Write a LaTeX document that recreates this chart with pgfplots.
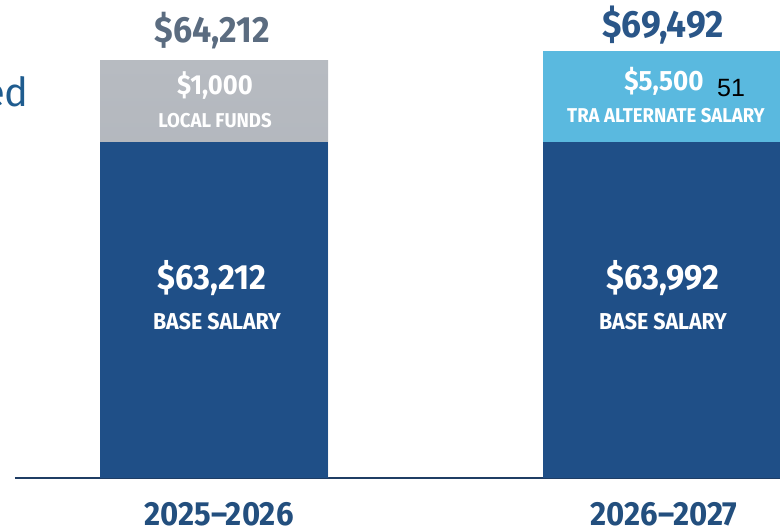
\documentclass[border=0pt]{standalone}
\usepackage{pgfplots}
\pgfplotsset{compat=1.18}
\usepackage{fontspec}
\setmainfont{Fira Sans}
\newfontfamily\cond[FakeStretch=0.93]{Fira Sans}
\newfontfamily\arial{Liberation Sans}
\definecolor{navy}{HTML}{1F4F87}
\definecolor{axnavy}{HTML}{1F3D64}
\definecolor{graytop}{HTML}{B7BBC1}
\definecolor{graybot}{HTML}{A6ABB3}
\definecolor{lblue}{HTML}{5AB9DF}
\definecolor{slate}{HTML}{5B6C80}
\definecolor{topblue}{HTML}{2A5688}
\definecolor{yearblue}{HTML}{234F7E}
\definecolor{edblue}{HTML}{1F5C8F}
\newcommand\fs[1]{\fontsize{#1}{#1}\selectfont}
\begin{document}
\begin{tikzpicture}[x=1pt,y=1pt]
\useasboundingbox (0,-54) rectangle (780,478);
\clip (0,-54) rectangle (780,478);
\begin{axis}[
  at={(15pt,0pt)}, anchor=south west,
  scale only axis, width=765pt, height=478pt,
  xmin=15, xmax=780, ymin=0, ymax=478,
  axis y line=none, axis x line*=bottom,
  x axis line style={draw=axnavy, line width=2.5pt},
  xtick=\empty, ytick=\empty,
  clip=false,
  ybar, bar shift=0pt,
]
% totals (top segment colour), drawn first
\addplot[top color=graytop, bottom color=graybot, draw=none, bar width=228] coordinates {(214,417)};
\addplot[fill=lblue, draw=none, bar width=250] coordinates {(668,427)};
% base salary
\addplot[fill=navy, draw=none, bar width=228] coordinates {(214,336)};
\addplot[fill=navy, draw=none, bar width=250] coordinates {(668,336)};

\node[anchor=base, text=slate, font=\cond\bfseries\fs{36.5}] at (axis cs:212,435) {\$64,212};
\node[anchor=base, text=topblue, font=\cond\bfseries\fs{38}] at (axis cs:663,440) {\$69,492};
\node[anchor=base, text=white, font=\cond\bfseries\fs{27.5}] at (axis cs:215,383) {\$1,000};
\node[anchor=base, text=white, font=\cond\bfseries\fs{20}] at (axis cs:215,350) {LOCAL FUNDS};
\node[anchor=base, text=white, font=\cond\bfseries\fs{28}] at (axis cs:664,387) {\$5,500};
\node[anchor=base, text=white, font=\cond\bfseries\fs{20}] at (axis cs:666,355) {TRA ALTERNATE SALARY};
\node[anchor=base west, text=black, font=\arial\fs{25}, inner sep=0pt] at (axis cs:717,381) {51};
\node[anchor=base, text=white, font=\cond\bfseries\fs{35}] at (axis cs:212,188) {\$63,212};
\node[anchor=base, text=white, font=\cond\bfseries\fs{23}] at (axis cs:217,148) {BASE SALARY};
\node[anchor=base, text=white, font=\cond\bfseries\fs{35}] at (axis cs:663,188) {\$63,992};
\node[anchor=base, text=white, font=\cond\bfseries\fs{23}] at (axis cs:663,148) {BASE SALARY};
\node[anchor=base, text=yearblue, font=\cond\bfseries\fs{33.5}, inner sep=0pt] at (axis cs:219,-48) {2025–2026};
\node[anchor=base, text=yearblue, font=\cond\bfseries\fs{33.5}, inner sep=0pt] at (axis cs:664,-48) {2026–2027};
\node[anchor=base east, text=edblue, font=\fs{40}, inner sep=0pt] at (axis cs:29,371) {ed};
\end{axis}
\end{tikzpicture}
\end{document}
